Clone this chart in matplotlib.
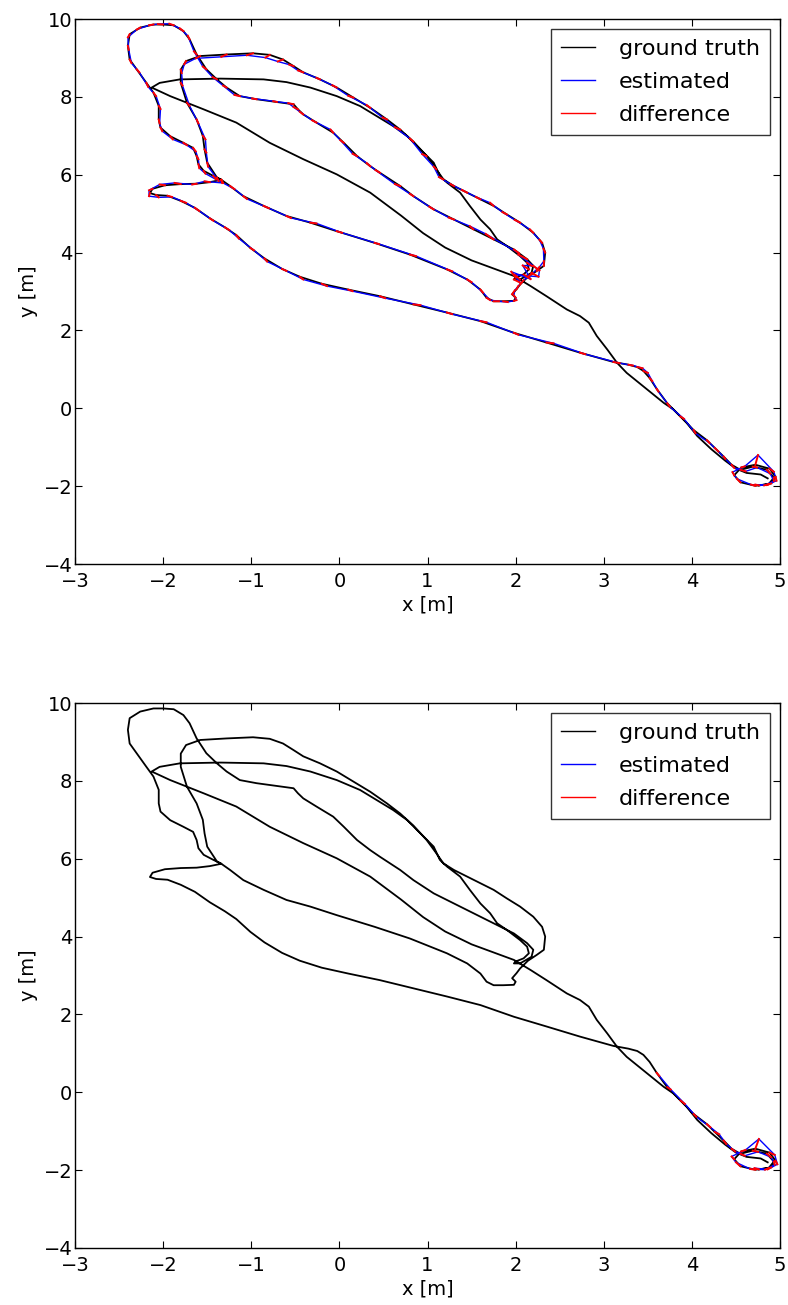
import matplotlib
matplotlib.use("Agg")
import matplotlib.pyplot as plt
import numpy as np

# Ground-truth trajectory, split into legs in driving order (metres).
# start: small loop at the parking spot
loop_x = [4.76, 4.90, 4.95, 4.88, 4.72, 4.56, 4.48, 4.55, 4.72, 4.87, 4.93, 4.85, 4.69, 4.55]
loop_y = [-1.98, -1.93, -1.76, -1.55, -1.45, -1.52, -1.72, -1.90, -1.99, -1.95, -1.78, -1.58, -1.50, -1.58]

# long southern run up to the west spur, back to the junction
south_x = [4.45, 4.36, 4.26, 4.17, 4.02, 3.87, 3.72, 3.60, 3.52, 3.45, 3.38, 3.28, 3.11, 2.73, 2.35,
           1.98, 1.60, 1.22, 0.84, 0.46, 0.10, -0.20, -0.45, -0.65, -0.85, -1.01, -1.17, -1.30, -1.47,
           -1.64, -1.80, -1.95, -2.08, -2.15, -2.12, -1.98, -1.80, -1.62, -1.47]
south_y = [-1.45, -1.24, -1.02, -0.82, -0.56, -0.21, 0.13, 0.50, 0.78, 0.96, 1.06, 1.12, 1.19, 1.43, 1.69,
           1.94, 2.24, 2.46, 2.67, 2.88, 3.05, 3.20, 3.38, 3.58, 3.85, 4.12, 4.45, 4.65, 4.88,
           5.15, 5.33, 5.46, 5.48, 5.53, 5.64, 5.73, 5.76, 5.77, 5.81]

# second loop: north along the west side, over the top, down to the east tip and back
outer_x = [-1.34, -1.39, -1.50, -1.53, -1.55, -1.62, -1.73, -1.80, -1.80, -1.74, -1.58, -1.28, -0.98,
           -0.79, -0.64, -0.52, -0.41, -0.22, -0.03, 0.16, 0.35, 0.54, 0.69, 0.84, 0.99, 1.10, 1.18,
           1.30, 1.45, 1.60, 1.75, 1.90, 2.05, 2.20, 2.30, 2.335, 2.32, 2.24, 2.14, 2.05, 2.01, 1.96,
           2.00, 1.98, 1.86, 1.75, 1.67, 1.60, 1.45, 1.22, 0.80, 0.40, -0.03, -0.33, -0.60, -0.86,
           -1.09, -1.24]
outer_y = [5.87, 5.93, 6.31, 6.65, 7.00, 7.42, 7.85, 8.36, 8.70, 8.92, 9.05, 9.09, 9.12,
           9.08, 8.96, 8.79, 8.63, 8.45, 8.24, 7.98, 7.72, 7.42, 7.16, 6.85, 6.48, 6.14, 5.88,
           5.71, 5.54, 5.37, 5.20, 4.98, 4.77, 4.51, 4.25, 4.00, 3.66, 3.53, 3.38, 3.18, 3.06, 2.93,
           2.84, 2.76, 2.75, 2.75, 2.84, 3.05, 3.31, 3.57, 3.95, 4.25, 4.55, 4.77, 4.94, 5.20,
           5.45, 5.71]

# north-west loop, then the middle corridor down to the east tip
inner_x = [-1.34, -1.43, -1.54, -1.60, -1.62, -1.66, -1.77, -1.92, -2.03, -2.05, -2.05, -2.11, -2.19,
           -2.30, -2.38, -2.40, -2.38, -2.26, -2.11, -2.00, -1.88, -1.77, -1.70, -1.62, -1.51, -1.39,
           -1.28, -1.13, -0.94, -0.71, -0.52, -0.47, -0.41, -0.26, -0.07, 0.05, 0.20, 0.35, 0.46,
           0.69, 0.84, 1.07, 1.30, 1.52, 1.75, 1.98, 2.13, 2.20]
inner_y = [5.87, 5.97, 6.10, 6.27, 6.48, 6.69, 6.82, 6.99, 7.21, 7.42, 7.77, 8.11, 8.36,
           8.71, 8.96, 9.31, 9.61, 9.78, 9.86, 9.86, 9.84, 9.69, 9.48, 9.09, 8.71, 8.45,
           8.24, 8.02, 7.94, 7.87, 7.81, 7.68, 7.55, 7.34, 7.08, 6.82, 6.48, 6.22, 6.05,
           5.71, 5.45, 5.11, 4.85, 4.60, 4.34, 4.08, 3.83, 3.66]

# hairpin at the tip, back west along y~8.4, then the diagonal home
return_x = [2.18, 2.05, 1.98, 2.00, 2.09, 2.15, 2.13, 2.05, 1.90, 1.79, 1.71, 1.60, 1.48, 1.37, 1.22,
            1.14, 1.07, 0.92, 0.77, 0.61, 0.42, 0.235, -0.03, -0.33, -0.60, -0.86, -1.35, -1.81,
            -2.04, -2.13, -1.92, -1.54, -1.17, -0.79, -0.41, -0.03, 0.35, 0.70, 0.95, 1.20, 1.50,
            1.80, 1.98, 2.17, 2.35, 2.58, 2.73, 2.83, 2.92, 3.04, 3.15, 3.26, 3.49, 3.68, 3.79,
            3.94, 4.06, 4.22, 4.38, 4.50, 4.62, 4.78, 4.86]
return_y = [3.48, 3.31, 3.31, 3.36, 3.44, 3.57, 3.74, 3.91, 4.17, 4.34, 4.60, 4.85, 5.20, 5.54, 5.80,
            5.97, 6.31, 6.65, 6.99, 7.25, 7.51, 7.765, 8.02, 8.24, 8.38, 8.45, 8.47, 8.45,
            8.36, 8.24, 8.02, 7.68, 7.34, 6.82, 6.40, 6.01, 5.54, 4.95, 4.50, 4.13, 3.80,
            3.55, 3.40, 3.14, 2.88, 2.54, 2.37, 2.20, 1.86, 1.51, 1.17, 0.91, 0.49, 0.14, -0.03,
            -0.37, -0.71, -1.05, -1.35, -1.55, -1.66, -1.70, -1.80]

# estimation error (estimated - ground truth) of the full tracker, per pose
loop_err_x = [-0.04, -0.05, 0.01, 0.05, 0.03, 0.04, -0.02, -0.04, -0.05, -0.05, 0.00, 0.04, 0.05, 0.06]
loop_err_y = [0.02, -0.04, -0.10, -0.08, 0.25, 0.03, 0.08, 0.09, 0.03, -0.03, -0.09, -0.10, -0.02, -0.04]
south_err_x = [0.03, 0.02, 0.04, 0.03, 0.02, 0.04, 0.03, 0.02, 0.03, 0.05, 0.06, 0.05, 0.07, 0.06, 0.08,
               0.05, 0.07, 0.06, 0.08, 0.06, 0.05, 0.06, 0.04, 0.05, 0.03, 0.04, 0.03, 0.05, 0.04,
               0.05, 0.06, 0.05, 0.03, -0.01, -0.04, -0.06, -0.07, -0.05, -0.06]
south_err_y = [-0.08, -0.06, -0.09, -0.07, -0.08, -0.06, -0.09, -0.07, -0.08, -0.05, -0.03, -0.02, -0.03,
               -0.04, -0.02, -0.05, -0.03, -0.04, -0.02, -0.05, -0.04, -0.06, -0.07, -0.05, -0.08,
               -0.06, -0.09, -0.07, -0.06, -0.08, -0.05, -0.03, -0.06, -0.08, -0.04, 0.02, 0.03,
               -0.02, 0.02]
outer_err_x = [0.01, 0.02, 0.01, 0.02, 0.03, 0.02, 0.03, 0.02, 0.01, -0.02, -0.05, -0.06, -0.07, -0.05,
               -0.06, -0.05, -0.06, -0.04, -0.05, -0.06, -0.04, -0.05, -0.06, -0.04, -0.05, -0.03,
               -0.05, -0.04, -0.06, -0.05, -0.04, -0.05, -0.06, -0.04, -0.03, -0.02, 0.00, 0.03, 0.05,
               0.04, 0.02, 0.03, -0.02, 0.03, 0.05, 0.06, 0.04, 0.03, 0.05, 0.06, 0.07, 0.05, 0.06,
               0.07, 0.05, 0.06, 0.04, 0.05]
outer_err_y = [-0.08, -0.09, -0.10, -0.08, -0.09, -0.10, -0.08, -0.07, -0.09, -0.08, -0.06, -0.06,
               -0.05, -0.07, -0.05, 0.04, 0.05, 0.04, 0.06, 0.05, 0.07, 0.05, 0.06, 0.08, 0.05, 0.07,
               0.06, 0.05, 0.07, 0.06, 0.08, 0.06, 0.07, 0.09, 0.08, 0.10, 0.12, 0.10, 0.09, 0.11,
               0.08, 0.10, 0.06, 0.02, -0.02, 0.00, -0.06, -0.08, -0.07, -0.05, -0.04, -0.03, -0.04,
               -0.02, -0.05, -0.06, -0.07, -0.08]
inner_err_x = [0.02, 0.03, 0.02, 0.01, 0.02, 0.03, 0.04, 0.03, 0.02, 0.01, 0.02, 0.03, 0.02, 0.03,
               0.02, 0.01, -0.02, -0.04, -0.05, -0.06, -0.05, -0.04, -0.02, -0.03, -0.04, -0.05,
               -0.04, -0.06, -0.05, -0.04, -0.06, -0.05, -0.04, -0.05, -0.03, -0.04, -0.05, -0.04,
               -0.05, -0.06, -0.04, -0.05, -0.06, -0.04, -0.09, 0.06, -0.10, 0.07]
inner_err_y = [-0.08, -0.09, -0.07, -0.10, -0.08, -0.09, -0.06, -0.08, -0.09, -0.10, -0.08, -0.09,
               -0.10, -0.08, -0.09, -0.10, -0.08, -0.05, -0.02, 0.01, 0.04, 0.07, 0.09, 0.08, 0.07,
               0.06, 0.05, 0.03, 0.02, 0.02, 0.03, 0.06, 0.07, 0.06, 0.08, 0.07, 0.06, 0.08, 0.07,
               0.05, 0.06, 0.07, 0.05, 0.08, 0.14, -0.10, 0.12, -0.12]
# tracking breaks down in the hairpin; nothing estimated after these poses
return_err_x = [0.08, -0.06, 0.07, -0.05, 0.08, -0.07, 0.05]
return_err_y = [-0.10, 0.12, -0.08, 0.15, -0.12, 0.10, -0.08]

# second method: only the start of the run is estimated
odo_err_x = [-0.05, -0.04, 0.02, 0.06, 0.04, 0.05, -0.03, -0.05, -0.06, -0.04, 0.01, 0.05, 0.06, 0.05,
             0.04, 0.03, 0.05, 0.04, 0.03, 0.05, 0.04, 0.03]
odo_err_y = [0.03, -0.05, -0.09, -0.06, 0.25, 0.04, 0.07, 0.10, 0.02, -0.04, -0.08, -0.09, -0.03, -0.05,
             -0.07, -0.09, -0.06, -0.08, -0.07, -0.09, -0.06, -0.08]

X_TICKS = [-3, -2, -1, 0, 1, 2, 3, 4, 5]
Y_TICKS = [-4, -2, 0, 2, 4, 6, 8, 10]

gt_x = np.concatenate([loop_x, south_x, outer_x, inner_x, return_x])
gt_y = np.concatenate([loop_y, south_y, outer_y, inner_y, return_y])

err_full_x = np.concatenate([loop_err_x, south_err_x, outer_err_x, inner_err_x, return_err_x])
err_full_y = np.concatenate([loop_err_y, south_err_y, outer_err_y, inner_err_y, return_err_y])
err_odo_x = np.array(odo_err_x)
err_odo_y = np.array(odo_err_y)


def plot_panel(ax, ex, ey):
    n = len(ex)
    est_x = gt_x[:n] + ex
    est_y = gt_y[:n] + ey
    # one red segment per pose, from ground truth to estimate
    nan = np.full(n, np.nan)
    dx = np.column_stack([gt_x[:n], est_x, nan]).ravel()
    dy = np.column_stack([gt_y[:n], est_y, nan]).ravel()

    ax.plot(gt_x, gt_y, color="k", lw=1.3, label="ground truth")
    ax.plot(est_x, est_y, color="b", lw=1.0, label="estimated")
    ax.plot(dx, dy, color="r", lw=1.4, label="difference")

    ax.set_xlim(-3, 5)
    ax.set_ylim(-4, 10)
    ax.set_xticks(X_TICKS)
    ax.set_yticks(Y_TICKS)
    ax.set_xlabel("x [m]", labelpad=3)
    ax.set_ylabel("y [m]", labelpad=4)
    ax.tick_params(direction="in", top=True, right=True, length=5, width=0.8)
    ax.tick_params(axis="x", pad=6)
    ax.tick_params(axis="y", pad=2)
    for s in ax.spines.values():
        s.set_linewidth(1.0)
    leg = ax.legend(loc="upper right", fancybox=False, handlelength=1.5,
                    handletextpad=1.1, labelspacing=0.58, borderpad=0.45,
                    borderaxespad=0.45, fontsize=16)
    leg.get_frame().set_edgecolor("k")
    leg.get_frame().set_linewidth(1.0)
    for h in leg.get_lines():
        h.set_linewidth(1.0)


plt.rcParams["font.family"] = "DejaVu Sans"
plt.rcParams["font.size"] = 14
plt.rcParams["axes.unicode_minus"] = True

fig = plt.figure(figsize=(7.88, 13.05), dpi=100)
ax_top = fig.add_axes([0.0952, 0.5678, 0.8947, 0.4176])
ax_bot = fig.add_axes([0.0952, 0.0437, 0.8947, 0.4176])

plot_panel(ax_top, err_full_x, err_full_y)
plot_panel(ax_bot, err_odo_x, err_odo_y)

fig.savefig("out.png", dpi=100)
